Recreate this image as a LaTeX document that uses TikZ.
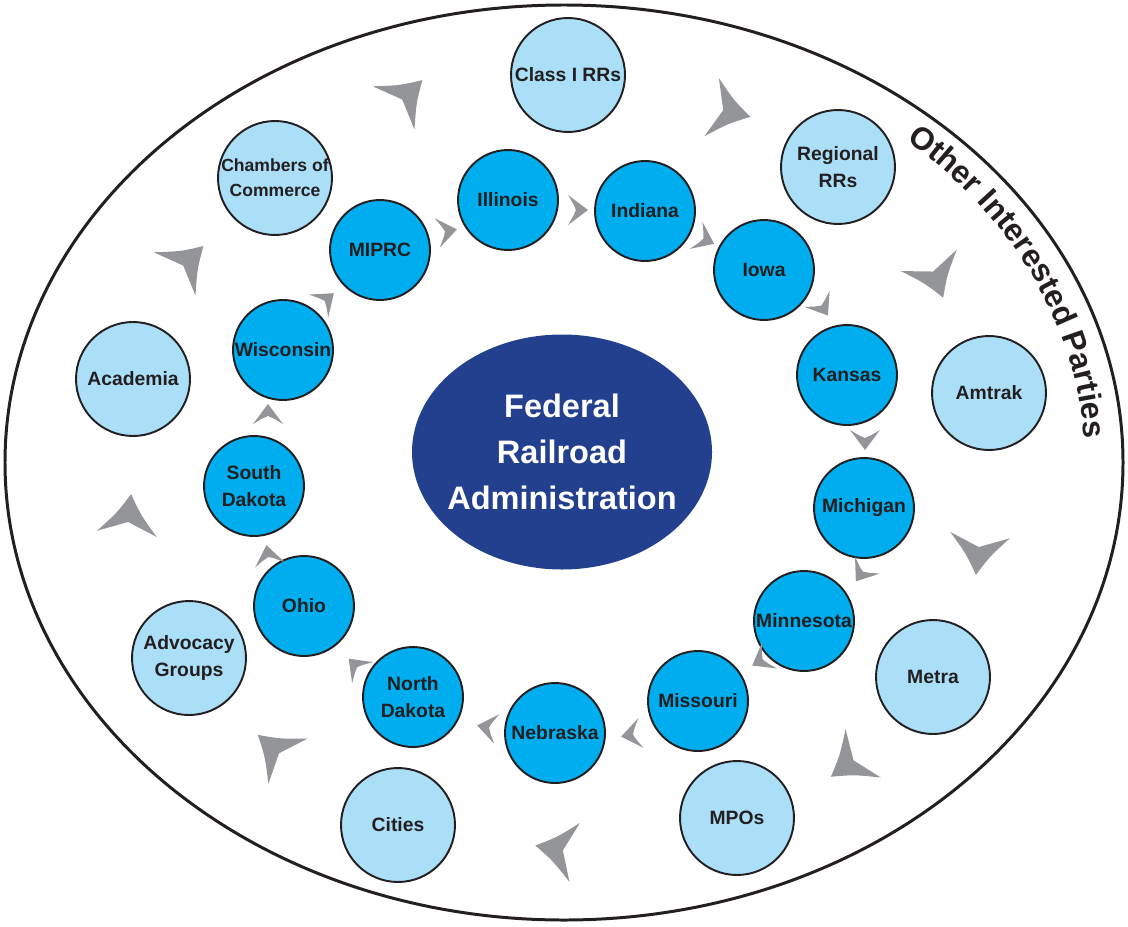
\documentclass[tikz,border=0pt]{standalone}
\usepackage{fontspec}
\setmainfont{Liberation Sans}
\usetikzlibrary{positioning,shapes.geometric,decorations.text}
\definecolor{statefill}{RGB}{0,174,239}
\definecolor{partyfill}{RGB}{171,223,248}
\definecolor{franavy}{RGB}{35,64,143}
\definecolor{tipgrey}{RGB}{147,149,152}
\definecolor{inkblack}{RGB}{35,31,32}

\begin{document}
\begin{tikzpicture}[x=0.02cm,y=0.02cm,
	state/.style={draw=inkblack, line width=1.1pt, circle, fill=statefill, inner sep=0pt, minimum size=2cm, align=center, text=inkblack, font=\fontsize{11}{15.5}\selectfont\bfseries},
	party/.style={state, fill=partyfill, minimum size=2.28cm},
	bigtip/.pic={\fill[tipgrey] (20,0) .. controls (0,12) .. (-20,30) .. controls (-12,10) .. (-8,0) .. controls (-12,-10) .. (-20,-30) .. controls (0,-12) .. (20,0) -- cycle;},
	smalltip/.pic={\fill[tipgrey] (9,0) -- (-11,15) .. controls (-5,5) .. (-3,0) .. controls (-5,-5) .. (-11,-15) -- cycle;}]
				\useasboundingbox (0,0) rectangle (1128,-926);
				\draw[inkblack, line width=1.7pt] (564,-462.5) ellipse [x radius=559, y radius=457.5];
				\path[decorate, decoration={text along path, text align=center, text color=inkblack, text={|\fontsize{18}{21}\selectfont\bfseries|Other Interested Parties}}] (564,-462.5) ++(50:521 and 427) arc[start angle=50, end angle=2, x radius=521, y radius=427];
				\fill[franavy] (562,-452) ellipse [x radius=150, y radius=117.5];
				\node[align=center, text=white, font=\fontsize{18.5}{26}\selectfont\bfseries] (fra) at (562,-452) {Federal\\Railroad\\Administration};
				\node[state] (miprc) at (380,-250) {MIPRC};
				\node[state] (illinois) at (508,-200) {Illinois};
				\node[state] (indiana) at (645,-211) {Indiana};
				\node[state] (iowa) at (764,-270) {Iowa};
				\node[state] (kansas) at (847,-375) {Kansas};
				\node[state] (michigan) at (864,-508) {Michigan};
				\node[state] (minnesota) at (804,-621) {Minnesota};
				\node[state] (missouri) at (698,-701) {Missouri};
				\node[state] (nebraska) at (555,-733) {Nebraska};
				\node[state] (northdakota) at (413,-697) {North\\Dakota};
				\node[state] (ohio) at (304,-606) {Ohio};
				\node[state] (southdakota) at (254,-486) {South\\Dakota};
				\node[state] (wisconsin) at (283,-350) {Wisconsin};
				\node[party] (classone) at (568,-75) {Class I RRs};
				\node[party] (regional) at (838,-167) {Regional\\RRs};
				\node[party] (amtrak) at (989,-393) {Amtrak};
				\node[party] (metra) at (933,-677) {Metra};
				\node[party] (mpos) at (737,-818) {MPOs};
				\node[party] (cities) at (398,-825) {Cities};
				\node[party] (advocacy) at (189,-658) {Advocacy\\Groups};
				\node[party] (academia) at (133,-379) {Academia};
				\node[party, font=\fontsize{10}{14}\selectfont\bfseries] (chambers) at (275,-178) {Chambers of\\Commerce};
				\foreach \x/\y/\a in {408/-94/44, 731/-112/-14, 936/-279/-69, 978/-555/-96, 847/-765/-144, 555/-849/170, 273/-748/139, 129/-514/84, 189/-260/44}
					\pic[rotate=\a] at (\x,\y) {bigtip};
				\foreach \x/\y/\a in {448/-231/10, 579/-210/0, 706/-240/-25, 823/-308/-57, 865/-441/-90, 861/-574/-125, 760/-661/-150, 630/-735/-170, 486/-727/170, 355/-665/135, 268/-554/100, 268/-413/90, 327/-299/40}
					\pic[rotate=\a] at (\x,\y) {smalltip};
\end{tikzpicture}
\end{document}
